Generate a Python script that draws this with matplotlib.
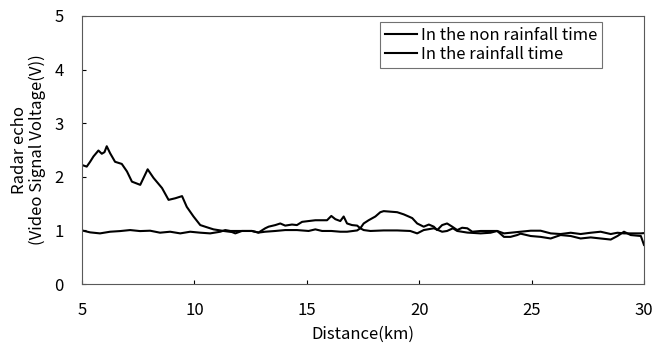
import numpy as np
import matplotlib
matplotlib.use('Agg')
import matplotlib.pyplot as plt

plt.rcParams['font.family'] = ['Noto Sans CJK JP', 'DejaVu Sans']

# distance (km) / echo voltage (V)
rain_km = [5.0, 5.21, 5.36, 5.51, 5.73, 5.88, 6.0, 6.10, 6.25, 6.47, 6.77, 7.0, 7.22, 7.59,
           7.92, 8.18, 8.56, 8.85, 9.15, 9.45, 9.66, 9.96, 10.26, 10.55, 10.85, 11.3, 11.67,
           11.82, 12.11, 12.56, 12.85, 13.15, 13.30, 13.6, 13.82, 14.04, 14.34, 14.56, 14.79,
           15.08, 15.38, 15.68, 15.9, 16.09, 16.27, 16.49, 16.64, 16.79, 17.01, 17.24, 17.38,
           17.53, 17.75, 18.05, 18.27, 18.42, 18.72, 19.02, 19.31, 19.53, 19.69, 19.91, 20.2,
           20.43, 20.65, 20.8, 21.02, 21.24, 21.47, 21.69, 21.91, 22.14, 22.36, 22.73, 23.17,
           23.47, 23.77, 24.06, 24.36, 24.51, 24.96, 25.4, 25.85, 26.29, 26.74, 27.18, 27.63,
           28.07, 28.52, 28.82, 29.11, 29.41, 29.86, 30.0]
rain_v = [2.22, 2.19, 2.28, 2.38, 2.49, 2.43, 2.46, 2.57, 2.44, 2.28, 2.24, 2.10, 1.91, 1.85,
          2.14, 1.98, 1.79, 1.57, 1.60, 1.64, 1.44, 1.26, 1.10, 1.06, 1.02, 0.99, 0.97,
          0.945, 0.99, 0.99, 0.96, 1.04, 1.07, 1.10, 1.13, 1.09, 1.11, 1.10, 1.16,
          1.175, 1.19, 1.19, 1.19, 1.27, 1.21, 1.175, 1.26, 1.13, 1.10, 1.09, 1.04,
          1.13, 1.19, 1.26, 1.34, 1.36, 1.35, 1.34, 1.30, 1.26, 1.23, 1.13, 1.07,
          1.11, 1.07, 1.007, 1.10, 1.13, 1.07, 1.007, 1.05, 1.04, 0.976, 0.99, 0.99,
          0.99, 0.88, 0.88, 0.914, 0.94, 0.896, 0.88, 0.85, 0.914, 0.896, 0.85, 0.87,
          0.85, 0.83, 0.896, 0.976, 0.914, 0.896, 0.73]

dry_km = [5.0, 5.36, 5.80, 6.25, 6.69, 7.14, 7.58, 8.03, 8.47, 8.92, 9.37, 9.81, 10.26,
          10.70, 11.15, 11.37, 11.6, 12.11, 12.56, 12.85, 13.15, 13.6, 14.04, 14.56, 15.08,
          15.38, 15.68, 16.09, 16.49, 16.79, 17.24, 17.38, 17.53, 17.83, 18.42, 19.02, 19.6,
          19.91, 20.2, 20.65, 21.02, 21.24, 21.5, 21.69, 22.14, 22.73, 23.17, 23.47, 23.77,
          24.06, 24.51, 24.96, 25.4, 25.85, 26.29, 26.74, 27.18, 27.63, 28.07, 28.52, 28.82,
          29.11, 29.41, 29.86, 30.0]
dry_v = [1.0, 0.964, 0.945, 0.976, 0.988, 1.007, 0.988, 0.995, 0.958, 0.976, 0.945, 0.976, 0.958,
         0.945, 0.976, 1.007, 0.99, 0.99, 0.99, 0.96, 0.976, 0.99, 1.007, 1.007, 0.99,
         1.02, 0.99, 0.99, 0.976, 0.976, 1.0, 1.04, 1.007, 0.99, 1.0, 1.0, 0.99,
         0.945, 1.007, 1.04, 0.976, 0.99, 1.04, 0.99, 0.96, 0.945, 0.957, 0.99, 0.945,
         0.957, 0.976, 0.995, 0.995, 0.945, 0.933, 0.957, 0.933, 0.957, 0.976, 0.933, 0.957,
         0.945, 0.945, 0.945, 0.95]

fig = plt.figure(figsize=(6.54, 3.46), dpi=100)
ax = fig.add_axes([0.1254, 0.179, 0.8593, 0.775])

ax.plot(rain_km, rain_v, color='black', lw=1.5, label='In the non rainfall time')
ax.plot(dry_km, dry_v, color='black', lw=1.5, label='In the rainfall time')

ax.set_xlim(5, 30)
ax.set_ylim(0, 5)
ax.set_xticks([5, 10, 15, 20, 25, 30])
ax.set_yticks([0, 1, 2, 3, 4, 5])
ax.tick_params(direction='in', length=3, width=0.8, labelsize=12)
ax.tick_params(axis='x', pad=13)
ax.tick_params(axis='y', pad=13)
for s in ax.spines.values():
    s.set_color('0.35')
    s.set_linewidth(0.8)

ax.set_xlabel('Distance(km)', fontsize=12, labelpad=5)
ax.set_ylabel('Radar echo\n(Video Signal Voltage(V))', fontsize=12, labelpad=6, linespacing=1.05)

leg = ax.legend(loc='upper left', bbox_to_anchor=(0.53, 0.978), borderaxespad=0,
                fontsize=12, frameon=True, fancybox=False, handlelength=1.9,
                handletextpad=0.25, borderpad=0.3, labelspacing=0.15)
leg.get_frame().set_edgecolor('0.3')
leg.get_frame().set_linewidth(0.8)

fig.savefig('out.png', dpi=100)
